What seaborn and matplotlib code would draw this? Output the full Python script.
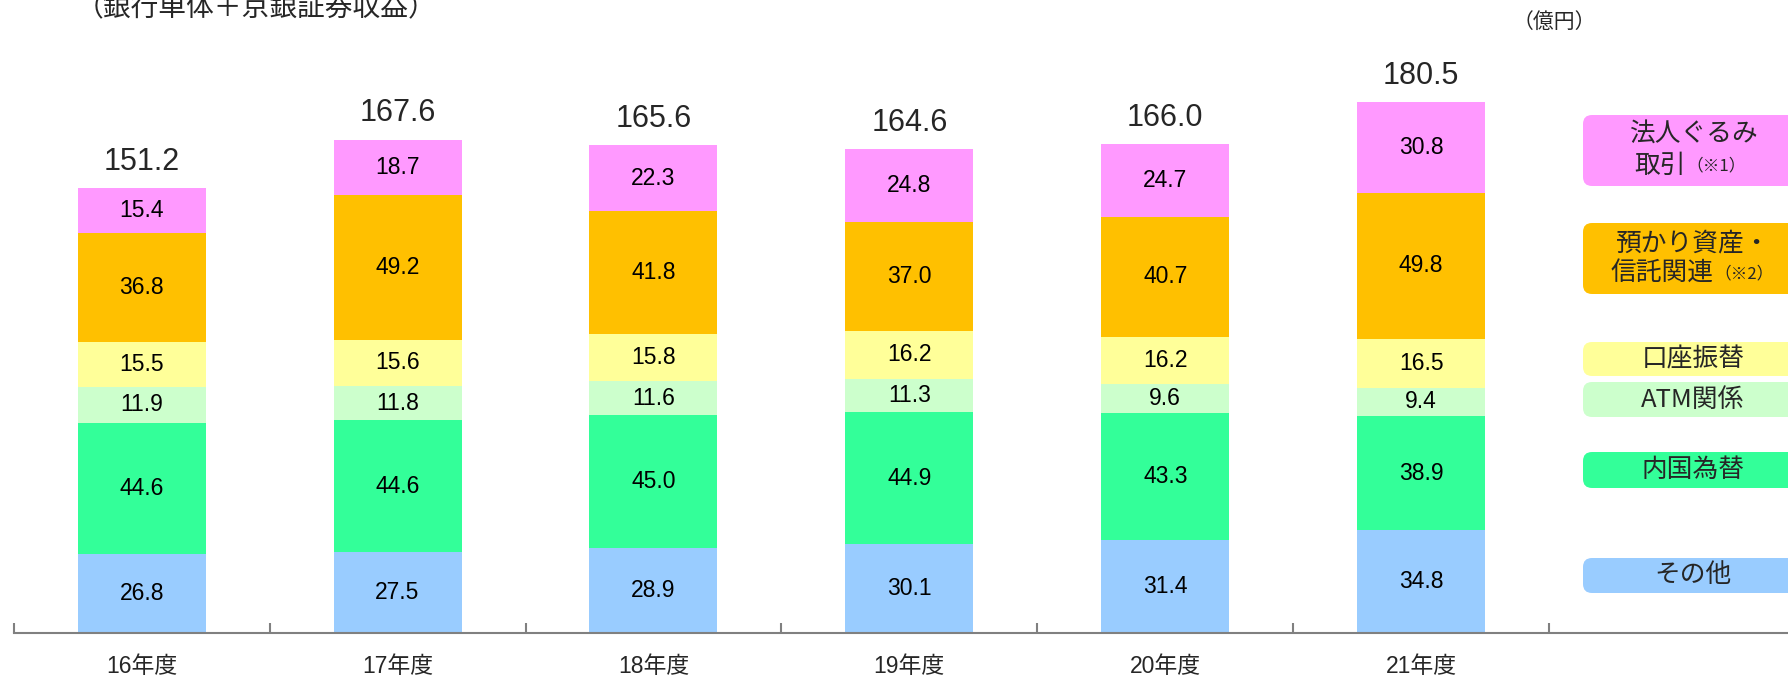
import numpy as np
import pandas as pd
import seaborn as sns
import matplotlib.pyplot as plt
from matplotlib.patches import FancyBboxPatch

# data (億円)
years = ["16年度", "17年度", "18年度", "19年度", "20年度", "21年度"]
sonota = [26.8, 27.5, 28.9, 30.1, 31.4, 34.8]
naikoku = [44.6, 44.6, 45.0, 44.9, 43.3, 38.9]
atm = [11.9, 11.8, 11.6, 11.3, 9.6, 9.4]
kouza = [15.5, 15.6, 15.8, 16.2, 16.2, 16.5]
azukari = [36.8, 49.2, 41.8, 37.0, 40.7, 49.8]
houjin = [15.4, 18.7, 22.3, 24.8, 24.7, 30.8]
totals = [151.2, 167.6, 165.6, 164.6, 166.0, 180.5]

series_names = ["その他", "内国為替", "ATM関係", "口座振替", "預かり資産", "法人ぐるみ"]
colors = ["#99CCFF", "#33FF99", "#CCFFCC", "#FFFF99", "#FFC000", "#FF99FF"]

W, H = 1788, 676
NUM_FONT = ["Liberation Sans", "Noto Sans CJK JP"]
JP_FONT = ["Noto Sans CJK JP", "DejaVu Sans"]

# legend boxes: (lines, color, top px, bottom px)
# each line is (main text, small note, split x px)
legend_boxes = [
	([("法人ぐるみ", "", None), ("取引", "（※1）", 1686)], "#FF99FF", 115, 186),
	([("預かり資産・", "", None), ("信託関連", "（※2）", 1714)], "#FFC000", 223, 294),
	([("口座振替", "", None)], "#FFFF99", 342, 376),
	([("ATM関係", "", None)], "#CCFFCC", 382, 417),
	([("内国為替", "", None)], "#33FF99", 452, 488),
	([("その他", "", None)], "#99CCFF", 558, 593),
]


def build_frame():
	df = pd.DataFrame({
		"year": years,
		"その他": sonota,
		"内国為替": naikoku,
		"ATM関係": atm,
		"口座振替": kouza,
		"預かり資産": azukari,
		"法人ぐるみ": houjin,
	})
	return df


def draw_bars(ax, df):
	cum = df[series_names].cumsum(axis=1)
	# draw the tallest cumulative first, then overlay lower ones
	for name, col in reversed(list(zip(series_names, colors))):
		sns.barplot(x=df["year"], y=cum[name], color=col, width=0.5,
				saturation=1, edgecolor="none", linewidth=0, ax=ax)

	for name in series_names:
		for i in range(len(years)):
			v = df[name][i]
			yc = cum[name][i] - v / 2
			ax.text(i, yc, f"{v:.1f}", ha="center", va="center",
					fontsize=16.5, family=NUM_FONT, color="black")

	top = cum[series_names[-1]]
	for i, t in enumerate(totals):
		ax.annotate(f"{t:.1f}", (i, top[i]), xytext=(0, 13),
				textcoords="offset points", ha="center", va="baseline",
				fontsize=22, family=NUM_FONT)


def style_axes(ax):
	n = len(years)
	ax.set_xlim(-0.5, -0.5 + (W - 13.7) / 255.9)
	ax.set_ylim(0, 633 / 2.948)
	for s in ["left", "top", "right"]:
		ax.spines[s].set_visible(False)
	ax.spines["bottom"].set_color("#808080")
	ax.spines["bottom"].set_linewidth(1.5)
	ax.set_yticks([])
	ax.set_xticks(range(n))
	ax.set_xticklabels(years, fontsize=16.5, family=NUM_FONT)
	ax.set_xticks(np.arange(-0.5, n, 1.0), minor=True)
	ax.tick_params(axis="x", which="major", bottom=True, length=0, pad=16)
	ax.tick_params(axis="x", which="minor", bottom=True, direction="in",
			length=7, width=1.5, color="#808080")
	ax.set_xlabel("")
	ax.set_ylabel("")
	ax.patch.set_visible(False)


def draw_legend(fig):
	for lines, col, top, bottom in legend_boxes:
		x0 = 1583
		box = FancyBboxPatch((x0 / 100, (H - bottom) / 100), 2.4, (bottom - top) / 100,
				boxstyle="round,pad=0,rounding_size=0.09", facecolor=col,
				edgecolor="none", transform=fig.dpi_scale_trans)
		fig.add_artist(box)

		n = len(lines)
		yc = (top + bottom) / 2
		step = 31
		for k, (main, note, split) in enumerate(lines):
			y = yc + (k - (n - 1) / 2) * step
			fy = 1 - y / H
			if note:
				fig.text(split / W, fy, main, ha="right", va="center",
						fontsize=18.5, family=JP_FONT)
				fig.text(split / W, fy, note, ha="left", va="center",
						fontsize=12, family=JP_FONT)
			else:
				fig.text(1693 / W, fy, main, ha="center", va="center",
						fontsize=18.5, family=JP_FONT)


def main():
	sns.set_theme(style="white")
	plt.rcParams["font.family"] = JP_FONT

	df = build_frame()

	fig = plt.figure(figsize=(W / 100, H / 100), dpi=100)
	ax = fig.add_axes([13.7 / W, 43 / H, (W - 13.7) / W, 633 / H])

	draw_bars(ax, df)
	style_axes(ax)
	draw_legend(fig)

	fig.text(256 / W, 1 - 16 / H, "（銀行単体＋京銀証券収益）", ha="center",
			va="baseline", fontsize=20, family=JP_FONT)
	fig.text(1554 / W, 1 - 22 / H, "（億円）", ha="center", va="center",
			fontsize=15, family=JP_FONT)

	fig.savefig("out.png", dpi=100)


main()
